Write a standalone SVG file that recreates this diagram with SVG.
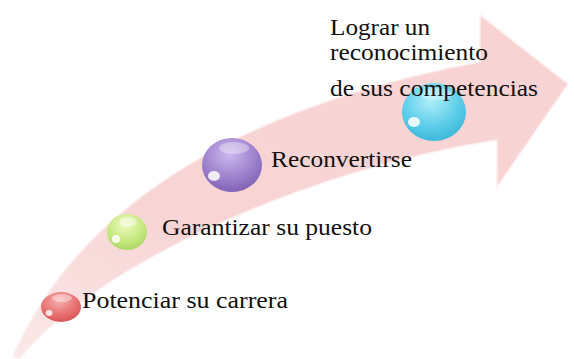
<svg xmlns="http://www.w3.org/2000/svg" width="574" height="359" viewBox="0 0 574 359">
<defs>
<style>
.lbl{font-family:"Liberation Serif","Times New Roman",serif;font-size:24px;fill:#111;}
.hl{fill:#fff;}
</style>
<linearGradient id="gArrow" x1="0" y1="1" x2="1" y2="0">
<stop offset="0" stop-color="#fbe8e8"/>
<stop offset="0.35" stop-color="#f8d4d4"/>
<stop offset="1" stop-color="#f9d3d3"/>
</linearGradient>
<radialGradient id="gRed" cx="0.45" cy="0.3" r="0.75">
<stop offset="0" stop-color="#f6b0b0"/>
<stop offset="0.6" stop-color="#e87070"/>
<stop offset="1" stop-color="#d85050"/>
</radialGradient>
<radialGradient id="gGreen" cx="0.45" cy="0.3" r="0.75">
<stop offset="0" stop-color="#eefac0"/>
<stop offset="0.6" stop-color="#c6e880"/>
<stop offset="1" stop-color="#a8d460"/>
</radialGradient>
<radialGradient id="gPurple" cx="0.45" cy="0.3" r="0.75">
<stop offset="0" stop-color="#cdb8ee"/>
<stop offset="0.6" stop-color="#9c80cc"/>
<stop offset="1" stop-color="#7c5cb0"/>
</radialGradient>
<radialGradient id="gCyan" cx="0.45" cy="0.3" r="0.75">
<stop offset="0" stop-color="#b0eefa"/>
<stop offset="0.6" stop-color="#5ccde8"/>
<stop offset="1" stop-color="#38b4d8"/>
</radialGradient>
</defs>
<rect width="574" height="359" fill="#fff"/>
<g id="connectors">
<path d="M13,357 C80,200 250,105 480,62 L480,15 L568,84 L497,187 L497,140 C300,170 90,270 20,358 Z" fill="url(#gArrow)" stroke="#fdeeee" stroke-width="1.5"/>
</g>
<g id="node-potenciar">
<ellipse cx="61" cy="307" rx="20" ry="15" fill="url(#gRed)"/>
<ellipse cx="62" cy="298" rx="10" ry="4" class="hl" opacity="0.4"/>
<ellipse cx="49" cy="313" rx="3.5" ry="3" class="hl" opacity="0.8"/>
<text class="lbl" x="82" y="308" textLength="206" lengthAdjust="spacingAndGlyphs">Potenciar su carrera</text>
</g>
<g id="node-garantizar">
<ellipse cx="127" cy="232" rx="20" ry="18" fill="url(#gGreen)"/>
<ellipse cx="128" cy="222" rx="9" ry="5" class="hl" opacity="0.45"/>
<ellipse cx="116" cy="239" rx="4" ry="4" class="hl" opacity="0.85"/>
<text class="lbl" x="162" y="235" textLength="210" lengthAdjust="spacingAndGlyphs">Garantizar su puesto</text>
</g>
<g id="node-reconvertirse">
<ellipse cx="232" cy="165" rx="30" ry="27" fill="url(#gPurple)"/>
<ellipse cx="234" cy="148" rx="15" ry="6" class="hl" opacity="0.35"/>
<ellipse cx="214" cy="176" rx="6" ry="5" class="hl" opacity="0.85"/>
<text class="lbl" x="271" y="167" textLength="141" lengthAdjust="spacingAndGlyphs">Reconvertirse</text>
</g>
<g id="node-lograr">
<ellipse cx="434" cy="112" rx="32" ry="29" fill="url(#gCyan)"/>
<ellipse cx="436" cy="94" rx="16" ry="6" class="hl" opacity="0.35"/>
<ellipse cx="414" cy="122" rx="6" ry="5" class="hl" opacity="0.85"/>
<text class="lbl" x="330" y="35" textLength="100" lengthAdjust="spacingAndGlyphs">Lograr un</text>
<text class="lbl" x="330" y="60" textLength="158" lengthAdjust="spacingAndGlyphs">reconocimiento</text>
<text class="lbl" x="330" y="96" textLength="208" lengthAdjust="spacingAndGlyphs">de sus competencias</text>
</g>
</svg>
